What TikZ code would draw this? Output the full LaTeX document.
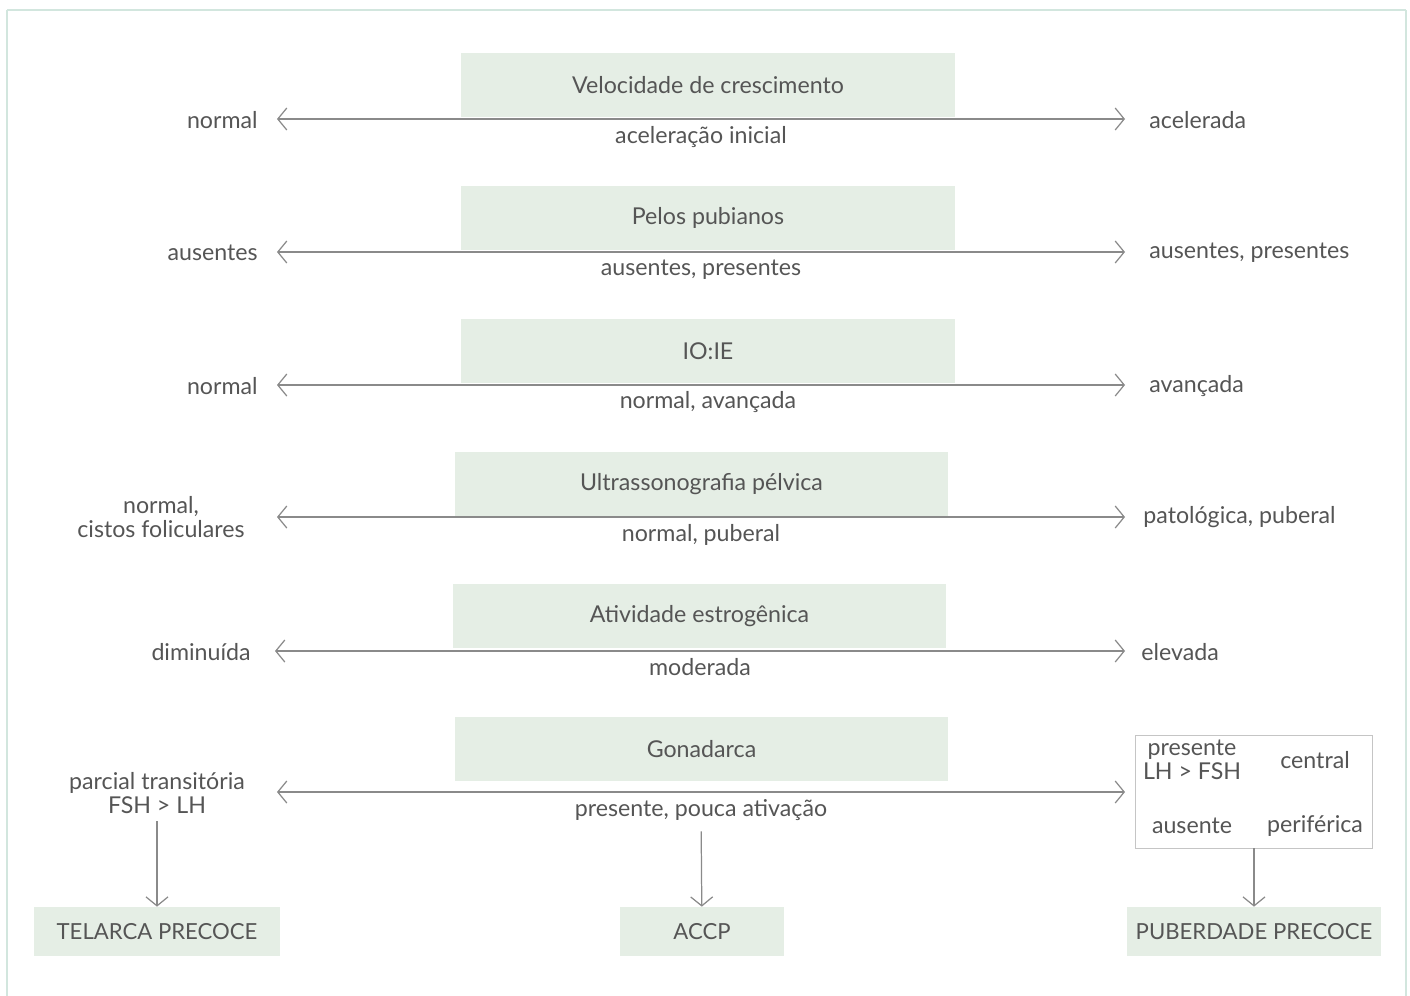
\documentclass[tikz,border=0pt]{standalone}
\usepackage{fontspec}
\setmainfont{Lato}
\usetikzlibrary{arrows.meta}
\definecolor{boxgreen}{HTML}{E5EEE5}
\definecolor{textgray}{HTML}{555555}
\definecolor{linegray}{HTML}{8A8A8A}
\definecolor{framegreen}{HTML}{D2E6DE}
\tikzset{
  txt/.style={text=textgray, font=\fontsize{13.2}{13.8}\selectfont, inner sep=0pt},
  title/.style={txt, fill=boxgreen, minimum width=9.88cm, minimum height=1.28cm},
  result/.style={txt, font=\fontsize{12.6}{13.8}\selectfont, fill=boxgreen, minimum height=0.98cm},
  scale arrow/.style={draw=linegray, line width=0.7pt,
    {Straight Barb[length=1.8mm,width=4.4mm]}-{Straight Barb[length=1.8mm,width=4.4mm]}},
  down arrow/.style={draw=linegray, line width=0.7pt,
    -{Straight Barb[length=1.8mm,width=4.4mm]}},
}
\begin{document}
\begin{tikzpicture}[x=0.02cm, y=-0.02cm]
  \useasboundingbox (0,0) rectangle (1410,995);
  %
  % Frame
  \draw[framegreen, line width=1.2pt] (7,10) -- (1406,10) (7,10) -- (7,1010) (1406,10) -- (1406,1010);
  %
  % Velocidade de crescimento
  \node[title] (vel) at (708,85) {Velocidade de crescimento};
  \node[txt, anchor=east] (vel-l) at (258,120) {normal};
  \node[txt, anchor=west] (vel-r) at (1149,120) {acelerada};
  \node[txt] (vel-m) at (701,137) {aceleração inicial};
  \coordinate (vel-a) at (277,119);
  \coordinate (vel-b) at (1125,119);
  \draw[scale arrow] (vel-a) -- (vel-b);
  %
  % Pelos pubianos
  \node[title] (pel) at (708,218) {Pelos pubianos};
  \node[txt, anchor=east] (pel-l) at (258,253) {ausentes};
  \node[txt, anchor=west] (pel-r) at (1149,253) {ausentes, presentes};
  \node[txt] (pel-m) at (701,270) {ausentes, presentes};
  \coordinate (pel-a) at (277,252);
  \coordinate (pel-b) at (1125,252);
  \draw[scale arrow] (pel-a) -- (pel-b);
  %
  % IO:IE
  \node[title] (io) at (708,351) {IO:IE};
  \node[txt, anchor=east] (io-l) at (258,386) {normal};
  \node[txt, anchor=west] (io-r) at (1149,386) {avançada};
  \node[txt] (io-m) at (708,402) {normal, avançada};
  \coordinate (io-a) at (277,385);
  \coordinate (io-b) at (1125,385);
  \draw[scale arrow] (io-a) -- (io-b);
  %
  % Ultrassonografia
  \node[title] (usg) at (701.5,484) {Ultrassonografia pélvica};
  \node[txt, align=center] (usg-l) at (161,517) {normal,\\cistos foliculares};
  \node[txt, anchor=west] (usg-r) at (1143,517) {patológica, puberal};
  \node[txt] (usg-m) at (701,535) {normal, puberal};
  \coordinate (usg-a) at (277,517);
  \coordinate (usg-b) at (1125,517);
  \draw[scale arrow] (usg-a) -- (usg-b);
  %
  % Atividade estrogenica
  \node[title] (est) at (699.5,616) {Atividade estrogênica};
  \node[txt, anchor=east] (est-l) at (251,652) {diminuída};
  \node[txt, anchor=west] (est-r) at (1141,652) {elevada};
  \node[txt] (est-m) at (700,667) {moderada};
  \coordinate (est-a) at (275,651);
  \coordinate (est-b) at (1125,651);
  \draw[scale arrow] (est-a) -- (est-b);
  %
  % Gonadarca
  \node[title] (gon) at (701.5,749) {Gonadarca};
  \node[txt, align=center] (gon-l) at (157,793) {parcial transitória\\FSH > LH};
  \node[txt] (gon-m) at (701,810) {presente, pouca ativação};
  \node[draw=linegray!50, fill=white, minimum width=4.74cm, minimum height=2.26cm] (gon-r) at (1253.5,791.5) {};
  \node[txt, align=center] (gon-pres) at (1192,760) {presente\\LH > FSH};
  \node[txt] (gon-cen) at (1315,760) {central};
  \node[txt] (gon-aus) at (1192,826) {ausente};
  \node[txt] (gon-per) at (1315,826) {periférica};
  \coordinate (gon-a) at (277,792);
  \coordinate (gon-b) at (1125,792);
  \draw[scale arrow] (gon-a) -- (gon-b);
  %
  % Diagnoses
  \node[result, minimum width=4.92cm] (tel) at (157,931.5) {TELARCA PRECOCE};
  \node[result, minimum width=3.28cm] (accp) at (702,931.5) {ACCP};
  \node[result, minimum width=5.08cm] (pub) at (1254,931.5) {PUBERDADE PRECOCE};
  \draw[down arrow, shorten <=4pt] (gon-l) -- (tel);
  \draw[down arrow, shorten <=6pt] (gon-m) -- (accp);
  \draw[down arrow] (gon-r.south -| pub) -- (pub);
\end{tikzpicture}
\end{document}
